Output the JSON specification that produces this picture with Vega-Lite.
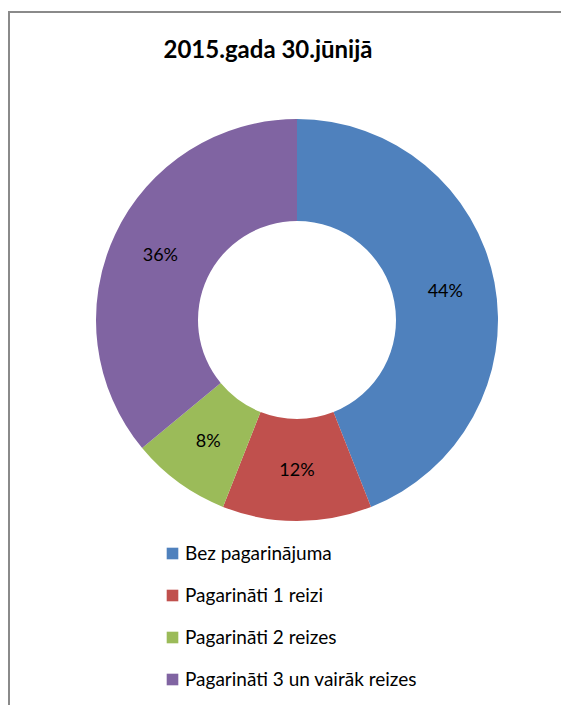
{
  "$schema": "https://vega.github.io/schema/vega-lite/v6.json",
  "autosize": "none",
  "width": 576,
  "height": 700,
  "padding": {"left": 9, "top": 12, "right": -24, "bottom": -7},
  "background": "white",
  "view": {"stroke": "#8a8a8a", "strokeWidth": 2, "fill": "white"},
  "title": {
    "text": "2015.gada 30.jūnijā",
    "font": "Lato",
    "fontSize": 24,
    "fontWeight": "bold",
    "color": "black",
    "anchor": "middle",
    "frame": "group",
    "dx": -29,
    "offset": -51
  },
  "data": {
    "values": [
      {"category": "Bez pagarinājuma", "share": 44, "label": "44%"},
      {"category": "Pagarināti 1 reizi", "share": 12, "label": "12%"},
      {"category": "Pagarināti 2 reizes", "share": 8, "label": "8%"},
      {"category": "Pagarināti 3 un vairāk reizes", "share": 36, "label": "36%"}
    ]
  },
  "encoding": {
    "theta": {"field": "share", "type": "quantitative", "stack": true},
    "order": {"field": "category", "type": "nominal", "sort": "ascending"}
  },
  "layer": [
    {
      "mark": {"type": "arc", "innerRadius": 99, "outerRadius": 201, "yOffset": -42},
      "encoding": {
        "color": {
          "field": "category",
          "type": "nominal",
          "scale": {
            "domain": ["Bez pagarinājuma", "Pagarināti 1 reizi", "Pagarināti 2 reizes", "Pagarināti 3 un vairāk reizes"],
            "range": ["#4F81BD", "#C0504D", "#9BBB59", "#8064A2"]
          },
          "legend": {
            "title": null,
            "orient": "none",
            "legendX": 154,
            "legendY": 532,
            "symbolType": "square",
            "symbolSize": 135,
            "symbolStrokeWidth": 0,
            "labelFont": "Lato",
            "labelFontSize": 19,
            "labelColor": "black",
            "labelOffset": 3,
            "rowPadding": 22,
            "labelLimit": 400
          }
        }
      }
    },
    {
      "mark": {"type": "text", "radius": 151, "yOffset": -42, "font": "Lato", "fontSize": 18, "color": "black"},
      "encoding": {
        "text": {"field": "label", "type": "nominal"},
        "detail": {"field": "category", "type": "nominal"}
      }
    }
  ]
}
